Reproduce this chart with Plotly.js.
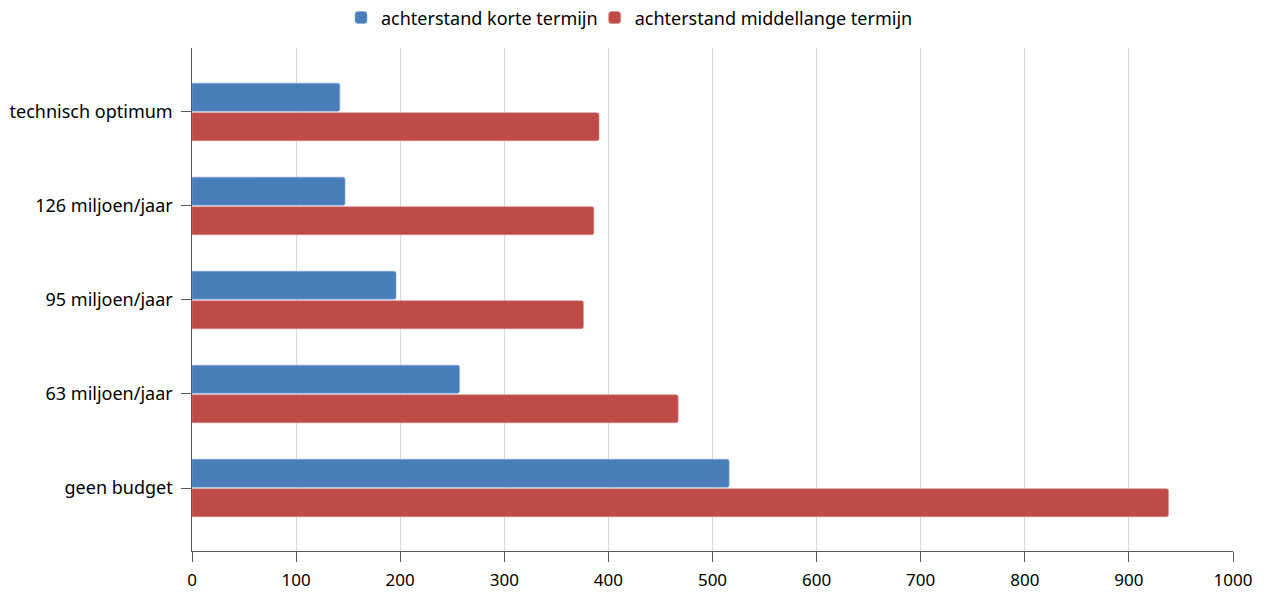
<!DOCTYPE html>
<html><head><meta charset="utf-8">
<script src="https://cdn.plot.ly/plotly-3.0.1.min.js"></script>
<style>html,body{margin:0;padding:0;background:#fff}#chart{width:1267px;height:594px}</style>
</head><body><div id="chart"></div>
<script>
const categories = ["geen budget", "63 miljoen/jaar", "95 miljoen/jaar", "126 miljoen/jaar", "technisch optimum"];
const korteTermijn = [516, 257, 196, 147, 142];
const middellangeTermijn = [938, 467, 376, 386, 391];
const xTicks = [0, 100, 200, 300, 400, 500, 600, 700, 800, 900, 1000];

const traces = [
  {type: "bar", orientation: "h", name: "achterstand middellange termijn", y: categories, x: middellangeTermijn,
   marker: {color: "#be4b48", cornerradius: 2, line: {color: "#d88a88", width: 0.6}}, hoverinfo: "x"},
  {type: "bar", orientation: "h", name: "achterstand korte termijn", y: categories, x: korteTermijn,
   marker: {color: "#4a7ebb", cornerradius: 2, line: {color: "#86a9d6", width: 0.6}}, hoverinfo: "x"}
];
const layout = {
  width: 1267, height: 594,
  margin: {l: 192, r: 34, t: 48, b: 43},
  paper_bgcolor: "#fff", plot_bgcolor: "#fff",
  font: {family: "Noto Sans, Open Sans, sans-serif", size: 17, color: "#000"},
  barmode: "group", bargap: 0.372, bargroupgap: 0.05,
  showlegend: true,
  legend: {orientation: "h", traceorder: "reversed", x: 0.5, xanchor: "center", xref: "container",
           y: 0.97, yanchor: "middle", yref: "container", indentation: -8,
           font: {size: 18}, itemwidth: 30, tracegroupgap: 0},
  xaxis: {range: [0, 1000], tickvals: xTicks, showgrid: true, gridcolor: "#d9d9d9", gridwidth: 1,
          zeroline: false, showline: true, linecolor: "#595959", linewidth: 1,
          ticks: "outside", ticklen: 10, tickcolor: "#595959", ticklabelstandoff: 4, fixedrange: true},
  yaxis: {type: "category", range: [-0.67, 4.68], showgrid: false, zeroline: false,
          showline: true, linecolor: "#595959", linewidth: 1, tickfont: {size: 18},
          ticks: "outside", ticklen: 10, tickcolor: "#595959", ticksuffix: " ", fixedrange: true}
};
Plotly.newPlot("chart", traces, layout, {displayModeBar: false, staticPlot: true});
</script></body></html>
